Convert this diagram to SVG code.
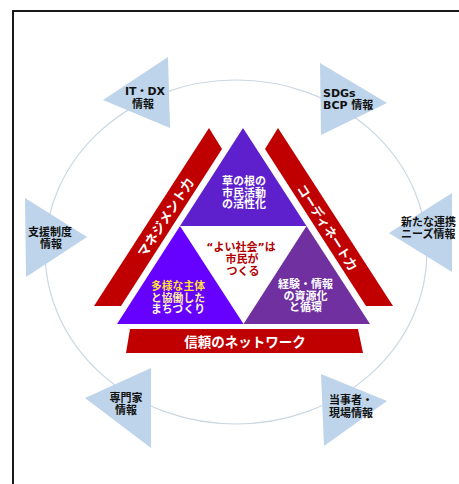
<svg xmlns="http://www.w3.org/2000/svg" width="459" height="484" viewBox="0 0 459 484">
  <defs>
    <style>
      .bg { fill: #ffffff; }
      .frame { fill: none; stroke: #000000; stroke-width: 1.8; }
      .orbit { fill: none; stroke: #cbd7e3; stroke-width: 1.2; }
      .info { fill: #bdd4ea; }
      .lbl { font-family: "DejaVu Sans", "Noto Sans CJK JP", sans-serif; font-weight: bold; font-size: 11px; fill: #111111; }
      .band { fill: #c00000; }
      .bandtxt { font-family: "Noto Sans CJK JP", sans-serif; font-weight: bold; fill: #ffffff; text-anchor: middle; dominant-baseline: central; }
      .ctr { font-family: "DejaVu Sans", "Noto Sans CJK JP", sans-serif; font-weight: bold; text-anchor: middle; }
    </style>
  </defs>
  <rect class="bg" x="0" y="0" width="459" height="484"/>
  <rect class="frame" x="13" y="11" width="500" height="500"/>

  <g id="connectors">
    <ellipse class="orbit" cx="236" cy="252" rx="191" ry="172"/>
  </g>

  <g id="node-itdx">
    <polygon class="info" points="103,100 168,57 170,128"/>
    <text class="lbl" x="145" y="95" text-anchor="middle">IT・DX</text>
    <text class="lbl" x="143" y="108" text-anchor="middle">情報</text>
  </g>
  <g id="node-sdgs">
    <polygon class="info" points="320,63 387,103 321,135"/>
    <text class="lbl" x="323" y="97">SDGs</text>
    <text class="lbl" x="323" y="109">BCP 情報</text>
  </g>
  <g id="node-shien">
    <polygon class="info" points="25,198 87,237 26,277"/>
    <text class="lbl" x="50" y="236" text-anchor="middle">支援制度</text>
    <text class="lbl" x="51" y="248" text-anchor="middle">情報</text>
  </g>
  <g id="node-renkei">
    <polygon class="info" points="389,233 452,193 452,272"/>
    <text class="lbl" x="401" y="226">新たな連携</text>
    <text class="lbl" x="401" y="238">ニーズ情報</text>
  </g>
  <g id="node-senmonka">
    <polygon class="info" points="85,398 151,368 151,448"/>
    <text class="lbl" x="126" y="402" text-anchor="middle">専門家</text>
    <text class="lbl" x="126" y="414" text-anchor="middle">情報</text>
  </g>
  <g id="node-tojisha">
    <polygon class="info" points="321,374 387,401 324,446"/>
    <text class="lbl" x="329" y="404">当事者・</text>
    <text class="lbl" x="329" y="417">現場情報</text>
  </g>

  <g id="node-management">
    <polygon class="band" points="209,128 222,149 121,306 94,306"/>
    <text class="bandtxt" font-size="13" transform="translate(165,217) rotate(-57.1)">マネジメント力</text>
  </g>
  <g id="node-coordinate">
    <polygon class="band" points="278,128 265,149 366,306 393,306"/>
    <text class="bandtxt" font-size="12.5" transform="translate(328,227) rotate(57.1)">コーディネート力</text>
  </g>
  <g id="node-network">
    <polygon class="band" points="130,329 358,329 363,353 126,353"/>
    <text class="bandtxt" font-size="13.5" x="245" y="341">信頼のネットワーク</text>
  </g>

  <g id="node-kusanone">
    <polygon fill="#5d20cc" points="243,128 306.5,226 180,226"/>
    <text class="ctr" font-size="11" fill="#ffffff" x="244" y="185">草の根の</text>
    <text class="ctr" font-size="11" fill="#ffffff" x="244" y="196.5">市民活動</text>
    <text class="ctr" font-size="11" fill="#ffffff" x="244" y="208">の活性化</text>
  </g>
  <g id="node-tayou">
    <polygon fill="#6600ff" points="180,226 243.5,324 117,324"/>
    <text class="ctr" font-size="10.8" fill="#ffdf3a" x="178" y="290">多様な主体</text>
    <text class="ctr" font-size="10.8" fill="#fff0a0" x="178" y="301.5">と協働した</text>
    <text class="ctr" font-size="10.8" fill="#fff8e0" x="178" y="313">まちづくり</text>
  </g>
  <g id="node-keiken">
    <polygon fill="#7030a0" points="306.5,226 370,324 243.5,324"/>
    <text class="ctr" font-size="11" fill="#ffffff" x="305.5" y="288">経験・情報</text>
    <text class="ctr" font-size="11" fill="#ffffff" x="305.5" y="299.5">の資源化</text>
    <text class="ctr" font-size="11" fill="#ffffff" x="305.5" y="311">と循環</text>
  </g>
  <g id="node-center">
    <polygon fill="#ffffff" points="183,227 305,227 244,322"/>
    <text class="ctr" font-size="11" fill="#b00000" x="241" y="251">“よい社会”は</text>
    <text class="ctr" font-size="11" fill="#b00000" x="242" y="263">市民が</text>
    <text class="ctr" font-size="11" fill="#b00000" x="243" y="275">つくる</text>
  </g>
</svg>
